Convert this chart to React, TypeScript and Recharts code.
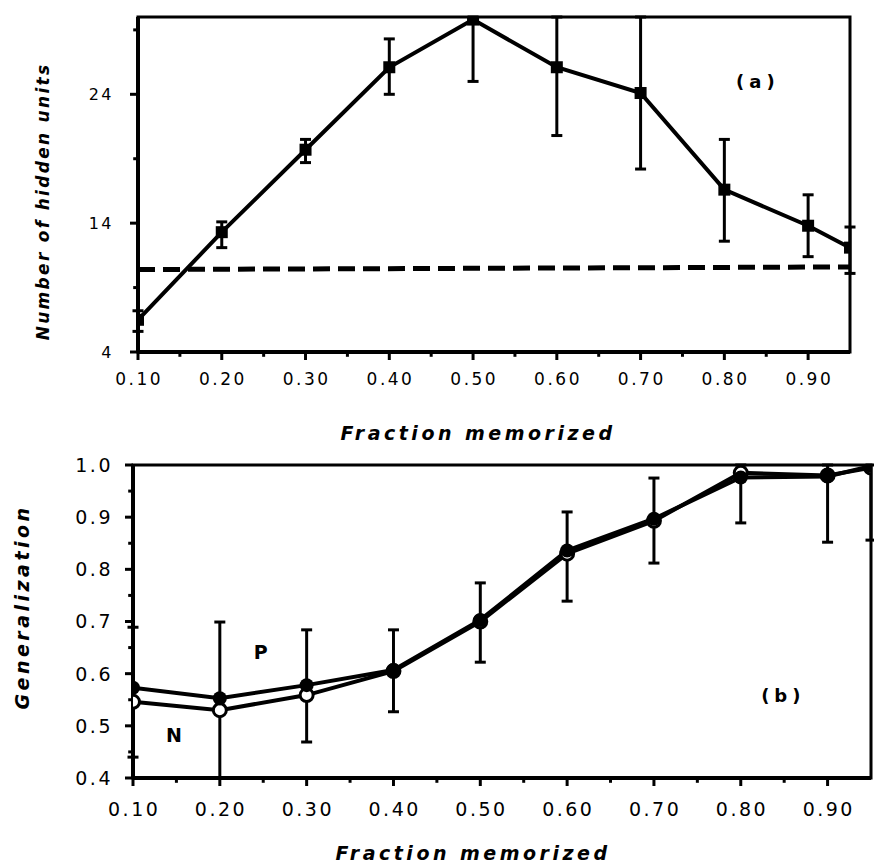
import React from "react";
import {
  ComposedChart,
  Line,
  XAxis,
  YAxis,
  ErrorBar,
  ReferenceArea,
  ReferenceDot,
  Label
} from "recharts";

const fractions = [0.1, 0.2, 0.3, 0.4, 0.5, 0.6, 0.7, 0.8, 0.9, 0.95];

// panel (a): number of hidden units (bars read up to the frame where they leave it)
const hiddenUnits = [6.5, 13.3, 19.7, 26.1, 29.8, 26.1, 24.1, 16.6, 13.8, 12.1];
const hiddenLow = [5.6, 12.1, 18.7, 24.0, 25.0, 20.8, 18.2, 12.6, 11.4, 10.1];
const hiddenHigh = [7.2, 14.1, 20.5, 28.3, 30.0, 30.0, 30.0, 20.5, 16.2, 13.7];
const dashedRef = [10.4, null, null, null, null, null, null, null, null, 10.6];

// panel (b): generalization, P (filled) and N (open)
const genP = [0.573, 0.553, 0.578, 0.607, 0.703, 0.836, 0.897, 0.976, 0.978, 0.998];
const genN = [0.546, 0.53, 0.559, 0.605, 0.7, 0.83, 0.893, 0.985, 0.98, 0.995];
const genLow = [0.44, 0.4, 0.469, 0.527, 0.622, 0.739, 0.812, 0.889, 0.852, 0.856];
const genHigh = [0.689, 0.699, 0.684, 0.684, 0.774, 0.91, 0.975, 1.0, 1.0, 1.0];

const xMajor = [0.1, 0.2, 0.3, 0.4, 0.5, 0.6, 0.7, 0.8, 0.9];
const xMinor = [0.15, 0.25, 0.35, 0.45, 0.55, 0.65, 0.75, 0.85];
const aMajor = [4, 14, 24];
const aMinor = [9, 19, 29];
const bMajor = [0.4, 0.5, 0.6, 0.7, 0.8, 0.9, 1.0];
const bMinor = [0.45, 0.55, 0.65, 0.75, 0.85, 0.95];

const dataA = fractions.map((x, i) => ({
  x,
  units: hiddenUnits[i],
  err: [hiddenUnits[i] - hiddenLow[i], hiddenHigh[i] - hiddenUnits[i]],
  dash: dashedRef[i]
}));

const dataB = fractions.map((x, i) => ({
  x,
  p: genP[i],
  n: genN[i],
  err: [genP[i] - genLow[i], genHigh[i] - genP[i]]
}));

const FONT = "'DejaVu Sans', Verdana, sans-serif";
const isIn = (arr: number[], v: number) => arr.some((m) => Math.abs(m - v) < 1e-6);

function makeXTick(major: number[], size: number, margin: number, fontSize: number) {
  return (props: any) => {
    const { x, y, payload } = props;
    const v = payload.value;
    const maj = isIn(major, v);
    const y0 = y - margin - size;
    return (
      <g>
        <line x1={x} x2={x} y1={y0} y2={y0 + (maj ? size : size * 0.6)} stroke="#000" strokeWidth={3} />
        {maj && (
          <text x={x} y={y} dx={1.2} dy="0.71em" textAnchor="middle" fontFamily={FONT} fontSize={fontSize} letterSpacing={2.5} fill="#000">
            {v.toFixed(2)}
          </text>
        )}
      </g>
    );
  };
}

function makeYTick(major: number[], size: number, margin: number, fontSize: number, digits: number) {
  return (props: any) => {
    const { x, y, payload } = props;
    const v = payload.value;
    const maj = isIn(major, v);
    const x0 = x + margin + size;
    return (
      <g>
        <line x1={x0 - (maj ? size : size * 0.6)} x2={x0} y1={y} y2={y} stroke="#000" strokeWidth={3} />
        {maj && (
          <text x={x} y={y} dy="0.36em" textAnchor="end" fontFamily={FONT} fontSize={fontSize} letterSpacing={2.5} fill="#000">
            {v.toFixed(digits)}
          </text>
        )}
      </g>
    );
  };
}

function title(text: string, offX: number, offY: number, vertical: boolean, size = 19, spacing = 3.5) {
  return (p: any) => {
    const vb = p.viewBox || {};
    const cx = vertical ? offX : vb.x + vb.width / 2 + offX;
    const cy = vertical ? vb.y + vb.height / 2 + offY : vb.y + offY;
    return (
      <text
        x={cx}
        y={cy}
        dy="0.36em"
        textAnchor="middle"
        transform={vertical ? `rotate(-90, ${cx}, ${cy})` : undefined}
        fontFamily={FONT}
        fontSize={size}
        fontWeight="bold"
        fontStyle="italic"
        letterSpacing={spacing}
        fill="#000"
      >
        {text}
      </text>
    );
  };
}

function tag(text: string, size = 18) {
  return (p: any) => (
    <text x={p.cx} y={p.cy} dy="0.36em" textAnchor="middle" fontFamily={FONT} fontSize={size} fontWeight="bold" letterSpacing={5} fill="#000">
      {text}
    </text>
  );
}

const squareDot = (p: any) => (
  <rect key={`sq-${p.index}`} x={p.cx - 6} y={p.cy - 6} width={12} height={12} fill="#000" />
);
const filledDot = (p: any) => <circle key={`fd-${p.index}`} cx={p.cx} cy={p.cy} r={7} fill="#000" />;
const openDot = (p: any) => (
  <circle key={`od-${p.index}`} cx={p.cx} cy={p.cy} r={6.5} fill="#fff" stroke="#000" strokeWidth={3} />
);

const axisLine = { stroke: "#000", strokeWidth: 4 };

export default function App() {
  return (
    <div style={{ position: "absolute", left: 0, top: 0, width: 874, height: 867, background: "#fff" }}>
      <div style={{ position: "absolute", left: 0, top: 0 }}>
        <ComposedChart width={874} height={455} data={dataA} margin={{ top: 17, right: 24, bottom: 0, left: 0 }}>
          <XAxis
            type="number"
            dataKey="x"
            domain={[0.1, 0.95]}
            ticks={[...xMajor, ...xMinor]}
            interval={0}
            allowDataOverflow
            tickLine={false}
            tickSize={8}
            tickMargin={13}
            tick={makeXTick(xMajor, 8, 13, 17)}
            axisLine={axisLine}
            height={103}
          >
            <Label content={title("Fraction memorized", -16, 81, false)} />
          </XAxis>
          <YAxis
            type="number"
            domain={[4, 30]}
            ticks={[...aMajor, ...aMinor]}
            interval={0}
            allowDataOverflow
            tickLine={false}
            tickSize={8}
            tickMargin={16}
            tick={makeYTick(aMajor, 8, 16, 16, 0)}
            axisLine={axisLine}
            width={138}
          >
            <Label content={title("Number of hidden units", 43, 17, true, 17, 2.3)} />
          </YAxis>
          <ReferenceArea x1={0.1} x2={0.95} y1={4} y2={30} fill="none" stroke="#000" strokeWidth={3} ifOverflow="visible" />
          <Line
            dataKey="dash"
            stroke="#000"
            strokeWidth={5}
            strokeDasharray="17 8"
            dot={false}
            connectNulls
            isAnimationActive={false}
          />
          <Line dataKey="units" stroke="#000" strokeWidth={4} dot={squareDot} isAnimationActive={false}>
            <ErrorBar dataKey="err" width={5.5} strokeWidth={3} stroke="#000" direction="y" />
          </Line>
          <ReferenceDot x={0.84} y={25} r={0} shape={tag("(a)")} />
        </ComposedChart>
      </div>
      <div style={{ position: "absolute", left: 0, top: 430 }}>
        <ComposedChart width={874} height={437} data={dataB} margin={{ top: 35, right: 3, bottom: 0, left: 0 }}>
          <XAxis
            type="number"
            dataKey="x"
            domain={[0.1, 0.95]}
            ticks={[...xMajor, ...xMinor]}
            interval={0}
            allowDataOverflow
            tickLine={false}
            tickSize={8}
            tickMargin={17}
            tick={makeXTick(xMajor, 8, 17, 19)}
            axisLine={axisLine}
            height={89}
          >
            <Label content={title("Fraction memorized", -29, 75, false)} />
          </XAxis>
          <YAxis
            type="number"
            domain={[0.4, 1.0]}
            ticks={[...bMajor, ...bMinor]}
            interval={0}
            allowDataOverflow
            tickLine={false}
            tickSize={8}
            tickMargin={12}
            tick={makeYTick(bMajor, 8, 12, 19, 1)}
            axisLine={axisLine}
            width={133}
          >
            <Label content={title("Generalization", 22, -14.5, true)} />
          </YAxis>
          <ReferenceArea x1={0.1} x2={0.95} y1={0.4} y2={1.0} fill="none" stroke="#000" strokeWidth={3} ifOverflow="visible" />
          <Line dataKey="n" stroke="#000" strokeWidth={4} dot={openDot} isAnimationActive={false} />
          <Line dataKey="p" stroke="#000" strokeWidth={4} dot={filledDot} isAnimationActive={false}>
            <ErrorBar dataKey="err" width={5.5} strokeWidth={3} stroke="#000" direction="y" />
          </Line>
          <ReferenceDot x={0.849} y={0.559} r={0} shape={tag("(b)")} />
          <ReferenceDot x={0.25} y={0.642} r={0} shape={tag("P", 19)} />
          <ReferenceDot x={0.15} y={0.482} r={0} shape={tag("N", 19)} />
        </ComposedChart>
      </div>
    </div>
  );
}
